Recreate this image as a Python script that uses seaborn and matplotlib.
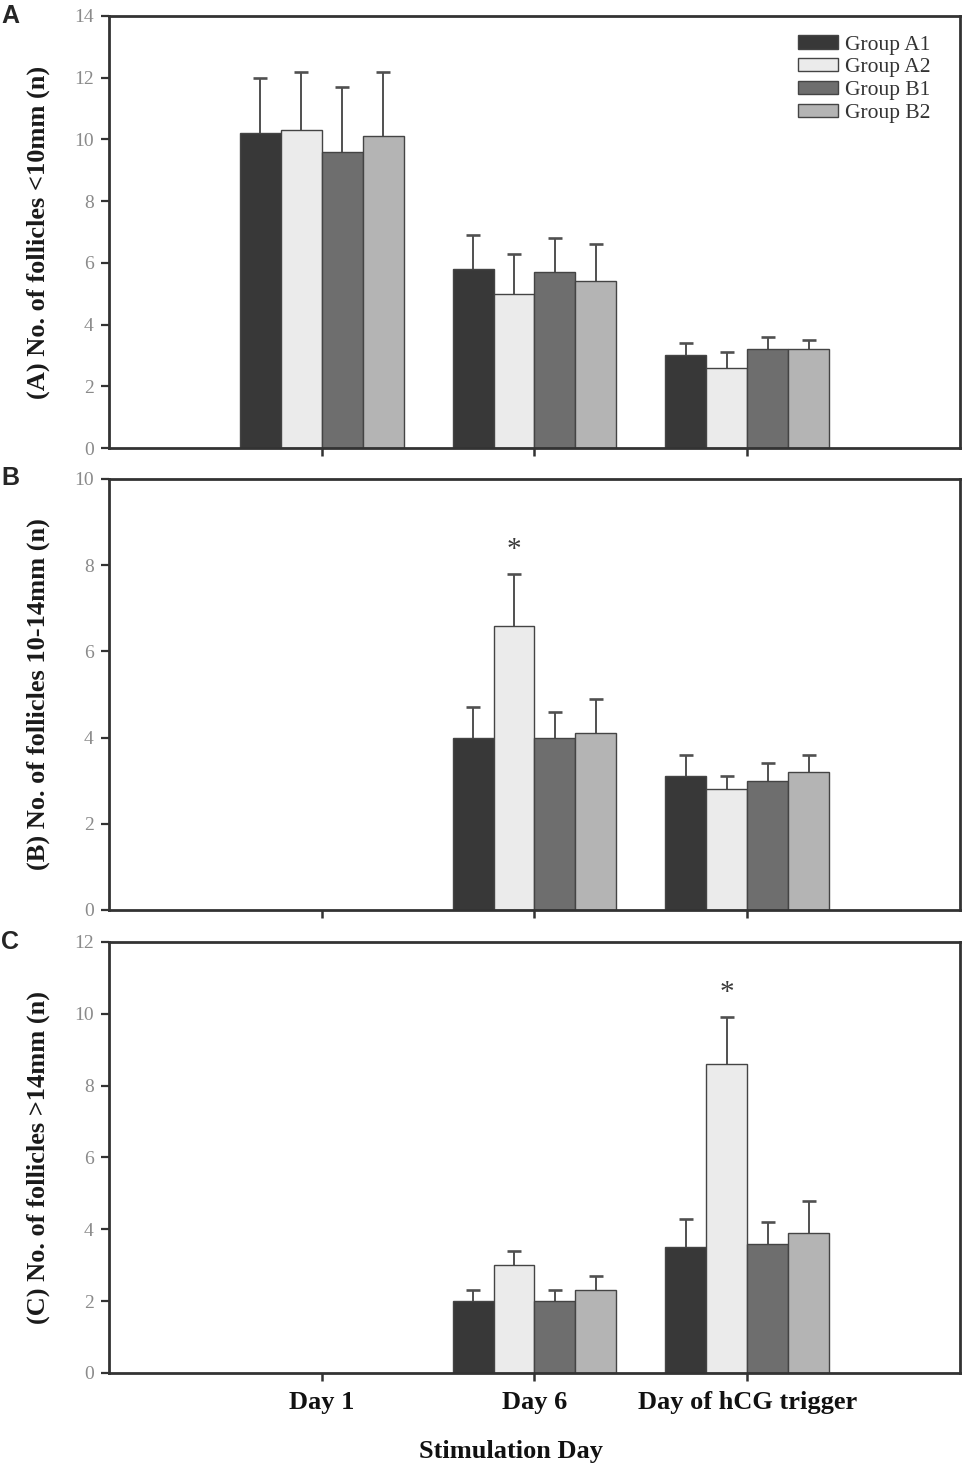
import numpy as np
import pandas as pd
import matplotlib
matplotlib.use("Agg")
import matplotlib.pyplot as plt
import seaborn as sns

days = ["Day 1", "Day 6", "Day of hCG trigger"]
groups = ["Group A1", "Group A2", "Group B1", "Group B2"]
group_colors = ["#383838", "#ebebeb", "#6e6e6e", "#b4b4b4"]

# rows = groups (A1, A2, B1, B2), columns = days; None = not measured
mean_small = [[10.2, 5.8, 3.0], [10.3, 5.0, 2.6], [9.6, 5.7, 3.2], [10.1, 5.4, 3.2]]
err_small = [[1.8, 1.1, 0.4], [1.9, 1.3, 0.5], [2.1, 1.1, 0.4], [2.1, 1.2, 0.3]]

mean_mid = [[None, 4.0, 3.1], [None, 6.6, 2.8], [None, 4.0, 3.0], [None, 4.1, 3.2]]
err_mid = [[None, 0.7, 0.5], [None, 1.2, 0.3], [None, 0.6, 0.4], [None, 0.8, 0.4]]

mean_large = [[None, 2.0, 3.5], [None, 3.0, 8.6], [None, 2.0, 3.6], [None, 2.3, 3.9]]
err_large = [[None, 0.3, 0.8], [None, 0.4, 1.3], [None, 0.3, 0.6], [None, 0.4, 0.9]]

# significance stars: (day, group)
star_mid = ("Day 6", "Group A2")
star_large = ("Day of hCG trigger", "Group A2")

sns.set_theme(style="ticks")
plt.rcParams['font.family'] = ['Liberation Serif', 'DejaVu Serif']

SPINE = "#333333"


def to_frame(means, errs):
    rows = []
    for gi, g in enumerate(groups):
        for di, d in enumerate(days):
            if means[gi][di] is None:
                continue
            rows.append({"day": d, "group": g, "mean": means[gi][di], "err": errs[gi][di]})
    return pd.DataFrame(rows)


def draw_panel(ax, means, errs, ymax, ylabel, legend=False, star=None, show_xlabels=False):
    df = to_frame(means, errs)
    sns.barplot(data=df, x="day", y="mean", hue="group", order=days, hue_order=groups,
                palette=group_colors, width=0.77, errorbar=None, saturation=1,
                edgecolor="#444444", linewidth=1.0, legend=legend, ax=ax, zorder=2)

    # error bars (upper only) placed on the bars seaborn drew
    for g, container in zip(groups, ax.containers):
        sub = df[df["group"] == g].copy()
        sub["order"] = sub["day"].map(days.index)
        sub = sub.sort_values("order")
        xs = np.array([p.get_x() + p.get_width() / 2 for p in container.patches])
        tops = np.array([p.get_height() for p in container.patches])
        ebar = sub["err"].to_numpy()
        _, caps, _ = ax.errorbar(xs, tops, yerr=[np.zeros_like(ebar), ebar], fmt="none",
                                 ecolor="#505050", elinewidth=1.4, capsize=4.7,
                                 capthick=1.9, zorder=1)
        caps[0].set_visible(False)
        if star is not None and star[1] == g:
            for day, x, t, e in zip(sub["day"], xs, tops, ebar):
                if day == star[0]:
                    ax.annotate("*", (x, t + e), xytext=(0, 8), textcoords="offset points",
                                ha="center", va="bottom", fontsize=21, color="#3a3a3a")

    ax.set_xlim(-1, 3)
    ax.set_ylim(0, ymax)
    ax.set_yticks(np.arange(0, ymax + 1, 2))
    ax.set_ylabel(ylabel, fontsize=19, fontweight="bold", color="#1a1a1a")
    ax.yaxis.set_label_coords(-0.069, 0.5)
    for s in ax.spines.values():
        s.set_visible(True)
        s.set_linewidth(2.0)
        s.set_color(SPINE)
    ax.tick_params(axis="y", direction="out", length=6, width=1.6, color=SPINE,
                   labelcolor="#8a8a8a", labelsize=14, pad=5)
    ax.tick_params(axis="x", direction="out", length=6, width=1.8, color=SPINE,
                   labelsize=19, labelcolor="#111111", pad=7)
    if show_xlabels:
        for lab in ax.get_xticklabels():
            lab.set_fontweight("bold")
        ax.set_xlabel("Stimulation Day", fontsize=19, fontweight="bold",
                      color="#111111")
        ax.xaxis.set_label_coords(0.472, -0.155)
    else:
        ax.tick_params(axis="x", labelbottom=False)
        ax.set_xlabel("")

    if legend:
        ax.legend(loc="upper right", bbox_to_anchor=(0.965, 0.955), frameon=False,
                  fontsize=15.5, handlelength=1.86, handleheight=0.56, labelspacing=0.17,
                  handletextpad=0.3, borderaxespad=0, borderpad=0, labelcolor="#333333")


fig = plt.figure(figsize=(9.67, 14.67), dpi=100)
ax_a = fig.add_axes([0.1127, 0.6946, 0.880, 0.2945])
ax_b = fig.add_axes([0.1127, 0.3797, 0.880, 0.2938])
ax_c = fig.add_axes([0.1127, 0.0641, 0.880, 0.2938])

draw_panel(ax_a, mean_small, err_small, 14, "(A) No. of follicles <10mm (n)", legend=True)
draw_panel(ax_b, mean_mid, err_mid, 10, "(B) No. of follicles 10-14mm (n)", star=star_mid)
draw_panel(ax_c, mean_large, err_large, 12, "(C) No. of follicles >14mm (n)",
           star=star_large, show_xlabels=True)

for letter, ypos in zip(["A", "B", "C"], [0.989, 0.674, 0.358]):
    fig.text(0.001, ypos, letter, fontsize=18, fontweight="bold",
             family=["Liberation Sans", "DejaVu Sans"], va="center", ha="left")

fig.savefig("out.png", dpi=100)
